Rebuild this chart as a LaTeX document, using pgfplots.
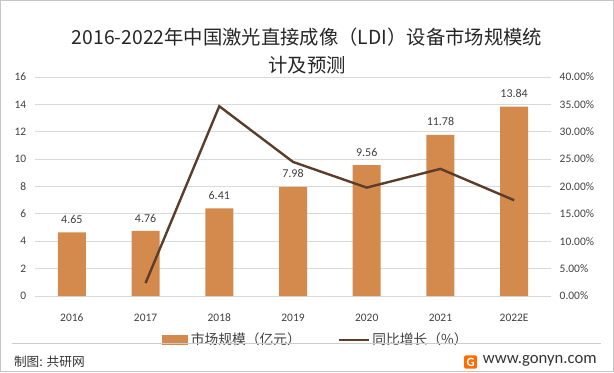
\documentclass[border=0pt]{standalone}
\usepackage{pgfplots}
\pgfplotsset{compat=1.18}
\usepackage{fontspec}
\setmainfont{Carlito}
\newfontfamily\cjk{Noto Sans CJK SC}
\definecolor{barc}{HTML}{D48A4C}
\definecolor{linec}{HTML}{5A3D2B}
\definecolor{gridc}{HTML}{D9D9D9}
\definecolor{txt}{HTML}{404040}
\begin{document}
\begin{tikzpicture}
\path[use as bounding box] (0,0) rectangle (460.5pt,279pt);
\draw[gray!45, line width=1pt] (0.5pt,0.5pt) rectangle (460pt,278.5pt);
\node[font=\cjk\fontsize{14.5}{16}\selectfont, text=black!85] at (230.25pt,251.5pt) {2016-2022年中国激光直接成像（LDI）设备市场规模统};
\node[font=\cjk\fontsize{14.5}{16}\selectfont, text=black!85] at (230.25pt,230pt) {计及预测};
\begin{axis}[
  at={(26.25pt,57pt)}, anchor=south west,
  scale only axis, width=387pt, height=164.25pt,
  xmin=-0.5, xmax=6.5, ymin=0, ymax=16,
  ytick={0,2,...,16},
  xtick={0,...,6},
  xticklabels={2016,2017,2018,2019,2020,2021,2022E},
  ymajorgrids, grid style={gridc, line width=0.6pt},
  axis line style={draw=none},
  major tick length=0pt,
  tick label style={font=\fontsize{8.6}{10}\selectfont, text=txt},
  /pgf/number format/assume math mode=true,
  yticklabel style={xshift=-3pt},
  xticklabel style={yshift=-10pt},
  legend style={at={(0.545,-0.15)}, anchor=north, draw=none, legend columns=2,
    font=\cjk\fontsize{10.3}{11}\selectfont, text=txt, inner sep=1pt,
    /tikz/every even column/.append style={column sep=26pt}},
]
\addplot[ybar, bar width=21pt, fill=barc, draw=none,
  nodes near coords, every node near coord/.append style={font=\fontsize{9}{10}\selectfont, text=txt, yshift=3pt},
  legend image code/.code={\fill[barc] (0pt,-3.8pt) rectangle (19.5pt,3.8pt);}]
  coordinates {(0,4.65) (1,4.76) (2,6.41) (3,7.98) (4,9.56) (5,11.78) (6,13.84)};
\addlegendentry{市场规模（亿元）}
\addlegendimage{linec, line width=1.8pt, legend image code/.code={\draw[linec, line width=1.8pt] (0pt,0pt) -- (22pt,0pt);}}
\addlegendentry{同比增长（\%）}
\end{axis}
\begin{axis}[
  at={(26.25pt,57pt)}, anchor=south west,
  scale only axis, width=387pt, height=164.25pt,
  xmin=-0.5, xmax=6.5, ymin=0, ymax=40,
  ytick={0,5,...,40},
  axis y line*=right, axis x line=none,
  axis line style={draw=none},
  major tick length=0pt,
  tick label style={font=\fontsize{8.6}{10}\selectfont, text=txt},
  /pgf/number format/assume math mode=true,
  yticklabel={\pgfmathprintnumber[fixed,fixed zerofill,precision=2]{\tick}\%},
  yticklabel style={xshift=3pt},
]
\addplot[linec, line width=1.8pt, mark=none] coordinates {(1,2.37) (2,34.66) (3,24.49) (4,19.80) (5,23.22) (6,17.49)};
\end{axis}
\draw[gray!40, line width=0.7pt] (9pt,21.5pt) -- (451pt,21.5pt);
\node[anchor=west, font=\cjk\fontsize{9.5}{10}\selectfont, text=black!80] at (7pt,7.5pt) {制图: 共研网};
\node[anchor=east, font=\fontsize{12.5}{13}\selectfont, text=black!80] at (451pt,8pt) {www.gonyn.com};
\node[fill=orange!85!red, text=white, font=\bfseries\fontsize{9.5}{10}\selectfont, inner sep=1.8pt, rounded corners=1pt] at (353pt,7.5pt) {G};
\end{tikzpicture}
\end{document}
